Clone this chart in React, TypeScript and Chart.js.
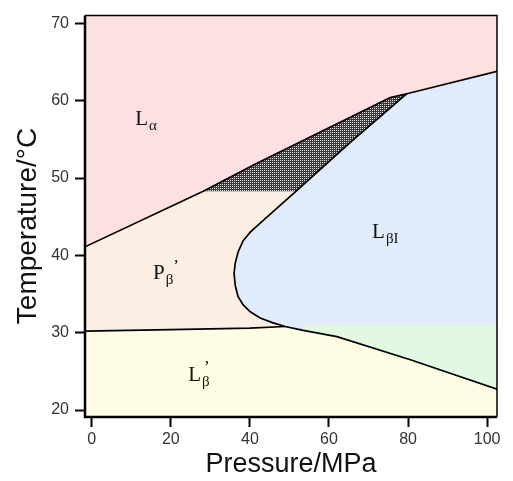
import React, { useEffect, useRef } from "react";
import { Chart, registerables } from "chart.js";

Chart.register(...registerables);

// ---- axis ranges and ticks ----
const pressureRange = [-1.7, 102.5];
const temperatureRange = [19.1, 71.0];
const xTicks = [0, 20, 40, 60, 80, 100];
const yTicks = [20, 30, 40, 50, 60, 70];

// ---- phase boundaries (Pressure MPa, Temperature °C) ----
// Lα boundary
const laP = [-1.7, 28.2, 41.4, 75.5, 79.7, 102.5];
const laT = [41.1, 48.3, 51.8, 60.4, 60.9, 63.8];
// LβI boundary (top kink -> nose -> right edge)
const lbP = [79.7, 65.4, 51.7, 43.1, 40.1, 38.3, 37.0, 36.3, 36.0, 36.3, 37.0, 38.3, 40.1, 42.6, 45.7, 48.9, 53.5, 62.0, 80.6, 102.5];
const lbT = [60.9, 54.6, 48.3, 44.4, 43.0, 41.9, 40.4, 39.0, 37.7, 36.1, 34.7, 33.6, 32.7, 31.9, 31.3, 30.8, 30.3, 29.5, 26.5, 22.7];
// Pβ' / Lβ' boundary
const pbP = [-1.7, 20, 40, 48.9];
const pbT = [30.2, 30.4, 30.6, 30.8];
// upper edge of the green zone
const greenP = [54, 102.5];
const greenT = [31.0, 31.0];

// ---- phase labels ----
const labelMain = ["L", "P", "L", "L"];
const labelSub = ["α", "β", "βI", "β"];
const labelSup = ["", "’", "", "’"];
const labelSupStacked = [false, false, false, true];
const labelP = [11.0, 15.5, 70.9, 24.4];
const labelT = [56.9, 37.0, 42.2, 23.8];

const pts = (P: number[], T: number[]) => P.map((p, i) => ({ x: p, y: T[i] }));

export default function App() {
  const ref = useRef<HTMLCanvasElement>(null);

  useEffect(() => {
    const canvas = ref.current!;
    const ctx0 = canvas.getContext("2d")!;

    const pc = document.createElement("canvas");
    pc.width = 2;
    pc.height = 2;
    const pctx = pc.getContext("2d")!;
    pctx.fillStyle = "#3a3a3a";
    pctx.fillRect(0, 0, 2, 2);
    pctx.fillStyle = "#e4e4e4";
    pctx.fillRect(0, 0, 1, 1);
    const hatch = ctx0.createPattern(pc, "repeat")!;

    const [xMin, xMax] = pressureRange;
    const [yMin, yMax] = temperatureRange;
    const la = pts(laP, laT);
    const lb = pts(lbP, lbT);
    const pb = pts(pbP, pbT);
    const gr = pts(greenP, greenT);

    const yellowPoly = [
      { x: xMin, y: yMin },
      { x: xMax, y: yMin },
      { x: xMax, y: yMax },
      { x: xMin, y: yMax },
    ];
    const pinkPoly = [...la, { x: xMax, y: yMax }, { x: xMin, y: yMax }];
    const hatchPoly = [...la.slice(1, 5), lb[1], lb[2]];
    const peachPoly = [la[0], la[1], ...lb.slice(2, 16), ...pb.slice(0, 3).reverse()];
    const bluePoly = [...lb, la[la.length - 1]];
    const greenPoly = [...gr, ...lb.slice(16).reverse()];

    const poly = (data: any[], color: any, order: number) => ({
      data,
      fill: "shape",
      backgroundColor: color,
      borderColor: typeof color === "string" ? color : "rgba(0,0,0,0)",
      borderWidth: typeof color === "string" ? 1 : 0,
      pointRadius: 0,
      tension: 0,
      order,
    });
    const line = (data: any[]) => ({
      data,
      fill: false,
      borderColor: "#000",
      borderWidth: 1.7,
      pointRadius: 0,
      tension: 0,
      order: 0,
    });

    const tickFont = { family: "'Liberation Sans', Arial, sans-serif", size: 16 };

    const framePlugin = {
      id: "frame",
      afterDatasetsDraw(chart: any) {
        const { ctx, chartArea: a } = chart;
        ctx.save();
        ctx.strokeStyle = "#000";
        ctx.lineWidth = 1.5;
        ctx.beginPath();
        ctx.moveTo(a.left, a.top);
        ctx.lineTo(a.right, a.top);
        ctx.lineTo(a.right, a.bottom);
        ctx.stroke();
        ctx.lineWidth = 2.5;
        ctx.beginPath();
        ctx.moveTo(a.left, a.top);
        ctx.lineTo(a.left, a.bottom);
        ctx.lineTo(a.right, a.bottom);
        ctx.stroke();
        ctx.restore();
      },
    };

    const labelPlugin = {
      id: "phaseLabels",
      afterDatasetsDraw(chart: any) {
        const { ctx, scales } = chart;
        ctx.save();
        ctx.fillStyle = "#111";
        ctx.textBaseline = "alphabetic";
        ctx.textAlign = "left";
        for (let i = 0; i < labelMain.length; i++) {
          const x = scales.x.getPixelForValue(labelP[i]);
          const y = scales.y.getPixelForValue(labelT[i]);
          ctx.font = "21px 'Liberation Serif', 'Times New Roman', serif";
          ctx.fillText(labelMain[i], x, y);
          const mw = ctx.measureText(labelMain[i]).width;
          ctx.font = "15px 'Liberation Serif', 'Times New Roman', serif";
          ctx.fillText(labelSub[i], x + mw + 1, y + 5);
          const sw = ctx.measureText(labelSub[i]).width;
          if (labelSup[i]) {
            ctx.font = "17px 'Liberation Serif', 'Times New Roman', serif";
            if (labelSupStacked[i]) ctx.fillText(labelSup[i], x + mw + 3, y - 9);
            else ctx.fillText(labelSup[i], x + mw + sw + 1, y - 8);
          }
        }
        ctx.restore();
      },
    };

    const yTitlePlugin = {
      id: "yTitle",
      afterDraw(chart: any) {
        const { ctx } = chart;
        ctx.save();
        ctx.translate(28, 226);
        ctx.rotate(-Math.PI / 2);
        ctx.font = "28px 'Liberation Sans', Arial, sans-serif";
        ctx.fillStyle = "#111";
        ctx.textAlign = "center";
        ctx.textBaseline = "middle";
        ctx.fillText("Temperature/°C", 0, 0);
        ctx.restore();
      },
    };

    const chart = new Chart(canvas, {
      type: "line",
      data: {
        datasets: [
          line(la),
          line(lb),
          line(pb),
          poly(hatchPoly, hatch, 1),
          poly(greenPoly, "#e1f9e0", 2),
          poly(bluePoly, "#e0ecfb", 3),
          poly(peachPoly, "#fdeee4", 4),
          poly(pinkPoly, "#fde0e1", 5),
          poly(yellowPoly, "#fefde4", 6),
        ] as any,
      },
      options: {
        animation: false,
        responsive: false,
        events: [],
        layout: { padding: { left: 0, top: 15, right: 16, bottom: 0 } },
        plugins: { legend: { display: false }, tooltip: { enabled: false } },
        scales: {
          x: {
            type: "linear",
            min: xMin,
            max: xMax,
            afterBuildTicks: (s: any) => {
              s.ticks = xTicks.map((v) => ({ value: v }));
            },
            afterFit: (s: any) => {
              s.height = 64;
            },
            ticks: { font: tickFont, color: "#333", padding: 3, maxRotation: 0, autoSkip: false },
            grid: { drawOnChartArea: false, drawTicks: true, tickLength: 10, tickWidth: 2, tickColor: "#000" },
            border: { display: false },
            title: {
              display: true,
              text: "Pressure/MPa",
              font: { family: "'Liberation Sans', Arial, sans-serif", size: 27 },
              color: "#111",
              padding: 0,
            },
          },
          y: {
            type: "linear",
            min: yMin,
            max: yMax,
            afterBuildTicks: (s: any) => {
              s.ticks = yTicks.map((v) => ({ value: v }));
            },
            afterFit: (s: any) => {
              s.width = 85;
            },
            ticks: { font: tickFont, color: "#333", padding: 6, autoSkip: false },
            grid: { drawOnChartArea: false, drawTicks: true, tickLength: 10, tickWidth: 2, tickColor: "#000" },
            border: { display: false },
          },
        },
      },
      plugins: [framePlugin, labelPlugin, yTitlePlugin],
    });

    return () => chart.destroy();
  }, []);

  return (
    <canvas
      ref={ref}
      width={513}
      height={481}
      style={{ position: "fixed", left: 0, top: 0, width: 513, height: 481 }}
    />
  );
}
